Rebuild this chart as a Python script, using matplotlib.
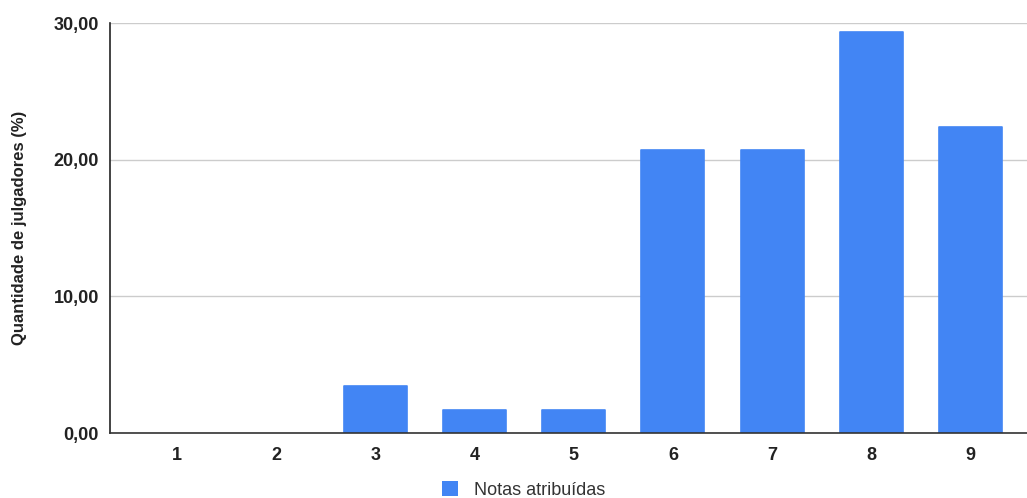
import matplotlib.pyplot as plt
from matplotlib.ticker import FuncFormatter

plt.rcParams['font.family'] = ['Liberation Sans', 'DejaVu Sans']

# notas de 1 a 9 e percentual de julgadores
notas = [1, 2, 3, 4, 5, 6, 7, 8, 9]
percentuais = [0.0, 0.0, 3.45, 1.72, 1.72, 20.69, 20.69, 29.31, 22.41]
rotulos = ['1', '2', '3', '4', '5', '6', '7', '8', '9']

fig = plt.figure(figsize=(10.27, 4.98), dpi=100)
ax = fig.add_axes([0.1071, 0.1305, 0.8929, 0.8233])

# borda arredondada só nas barras com valor
bordas = [1.2 if v > 0 else 0 for v in percentuais]
ax.bar(notas, percentuais, width=0.635, color='#4285f4', zorder=3,
       edgecolor='#4285f4', linewidth=bordas, joinstyle='round',
       label='Notas atribuídas')

ax.set_xlim(0.325, 9.569)
ax.set_ylim(0, 30)
ax.set_yticks([0, 10, 20, 30])
ax.yaxis.set_major_formatter(FuncFormatter(lambda v, p: f'{v:.2f}'.replace('.', ',')))
ax.set_xticks(notas)
ax.set_xticklabels(rotulos)

ax.grid(axis='y', color='#cccccc', linewidth=1, zorder=0)
for s in ['top', 'right']:
    ax.spines[s].set_visible(False)
ax.spines['left'].set_color('#222222')
ax.spines['bottom'].set_color('#333333')
ax.spines['left'].set_linewidth(1.2)
ax.spines['bottom'].set_linewidth(1.2)
ax.spines['left'].set_zorder(4)
ax.spines['bottom'].set_zorder(4)
ax.tick_params(axis='y', length=0, pad=8, labelsize=13)
ax.tick_params(axis='x', length=0, pad=10, labelsize=13)
for t in ax.get_xticklabels() + ax.get_yticklabels():
    t.set_fontweight('bold')
    t.set_color('#222222')

ax.set_ylabel('Quantidade de julgadores (%)', fontsize=12, fontweight='bold',
              color='#222222')
ax.yaxis.set_label_coords(-0.09, 0.5)

fig.legend(loc='lower center', bbox_to_anchor=(0.51, -0.035), frameon=False,
           fontsize=13, handlelength=0.9, handleheight=0.9, handletextpad=0.9,
           labelcolor='#333333')

fig.savefig('out.png', dpi=100)
